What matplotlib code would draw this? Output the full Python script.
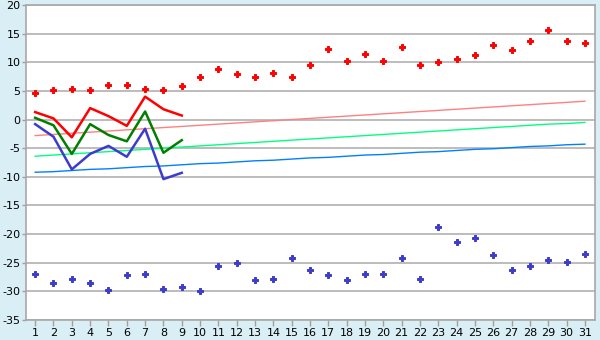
import matplotlib
matplotlib.use("Agg")
import matplotlib.pyplot as plt

plt.rcParams['font.family'] = ['DejaVu Sans']
plt.rcParams['axes.unicode_minus'] = False

days = list(range(1, 32))
max_temp = [4.6, 5.2, 5.4, 5.2, 6.0, 6.0, 5.4, 5.2, 5.8, 7.4, 8.8, 7.9, 7.5, 8.1, 7.4, 9.5,
            12.3, 10.3, 11.4, 10.2, 12.6, 9.5, 10.0, 10.5, 11.2, 13.0, 12.1, 13.7, 15.6, 13.8, 13.3]
min_temp = [-26.9, -28.6, -27.9, -28.6, -29.7, -27.2, -26.9, -29.5, -29.3, -30.0, -25.6, -25.1,
            -28.1, -27.9, -24.2, -26.2, -27.2, -28.1, -26.9, -27.0, -24.2, -27.9, -18.7, -21.4,
            -20.7, -23.7, -26.2, -25.5, -24.6, -24.8, -23.5]
obs_days = [1, 2, 3, 4, 5, 6, 7, 8, 9]
day_max = [1.3, 0.2, -3.1, 2.0, 0.6, -1.1, 4.0, 1.8, 0.7]
day_mean = [0.3, -1.0, -6.0, -0.8, -2.7, -3.8, 1.4, -5.8, -3.6]
day_min = [-0.8, -3.0, -8.7, -6.0, -4.6, -6.5, -1.6, -10.4, -9.3]
norm_max = [-2.8, -2.6, -2.4, -2.2, -2.0, -1.8, -1.6, -1.4, -1.2, -1.0, -0.8, -0.6, -0.4, -0.2, 0.0,
            0.2, 0.4, 0.6, 0.8, 1.0, 1.2, 1.4, 1.6, 1.8, 2.0, 2.2, 2.4, 2.6, 2.8, 3.0, 3.2]
norm_mean = [-6.4, -6.2, -6.0, -5.8, -5.6, -5.4, -5.2, -5.0, -4.8, -4.6, -4.4, -4.2, -4.0, -3.8, -3.6,
             -3.4, -3.2, -3.0, -2.8, -2.6, -2.4, -2.2, -2.0, -1.8, -1.6, -1.4, -1.2, -1.0, -0.8, -0.7, -0.5]
norm_min = [-9.2, -9.1, -8.9, -8.7, -8.6, -8.4, -8.2, -8.1, -7.9, -7.7, -7.6, -7.4, -7.2, -7.1, -6.9,
            -6.7, -6.6, -6.4, -6.2, -6.1, -5.9, -5.7, -5.6, -5.4, -5.2, -5.1, -4.9, -4.7, -4.6, -4.4, -4.3]
y_ticks = [-35, -30, -25, -20, -15, -10, -5, 0, 5, 10, 15, 20]

bg = '#daeff5'
fig = plt.figure(figsize=(6, 3.4), dpi=100, facecolor=bg)
ax = fig.add_axes([26/600, 20/340, 569/600, 315/340])
ax.set_facecolor('white')

for yv in y_ticks:
    ax.axhline(yv, color='#b0b0b0', lw=1.2, zorder=0)

ax.plot(days, norm_max, color='#ff8080', lw=1.0, zorder=2)
ax.plot(days, norm_mean, color='#00ff80', lw=1.0, zorder=2)
ax.plot(days, norm_min, color='#0080ff', lw=1.0, zorder=2)

ax.plot(obs_days, day_max, color='#ff0000', lw=1.8, zorder=3)
ax.plot(obs_days, day_mean, color='#007f00', lw=1.8, zorder=3)
ax.plot(obs_days, day_min, color='#3c3ccc', lw=1.8, zorder=3)

ax.plot(days, max_temp, ls='none', marker='P', ms=4.5, color='#ff0000', mec='#ff0000', mew=0.7, zorder=4)
ax.plot(days, min_temp, ls='none', marker='P', ms=4.5, color='#3c3ccc', mec='#3c3ccc', mew=0.7, zorder=4)

ax.set_xlim(0.5, 31.55)
ax.set_ylim(-35, 20)
ax.set_xticks(days)
ax.set_xticklabels([str(d) for d in days])
ax.set_yticks(y_ticks)
ax.set_yticklabels([str(v) for v in y_ticks])
ax.tick_params(axis='both', labelsize=8, color='#a0a0a0', width=1, labelcolor='black')
ax.tick_params(axis='y', length=3, pad=1)
ax.tick_params(axis='x', length=4, pad=2)
for s in ax.spines.values():
    s.set_color('#a8a8a8')
    s.set_linewidth(1.2)

fig.savefig('out.png', dpi=100, facecolor=bg)
